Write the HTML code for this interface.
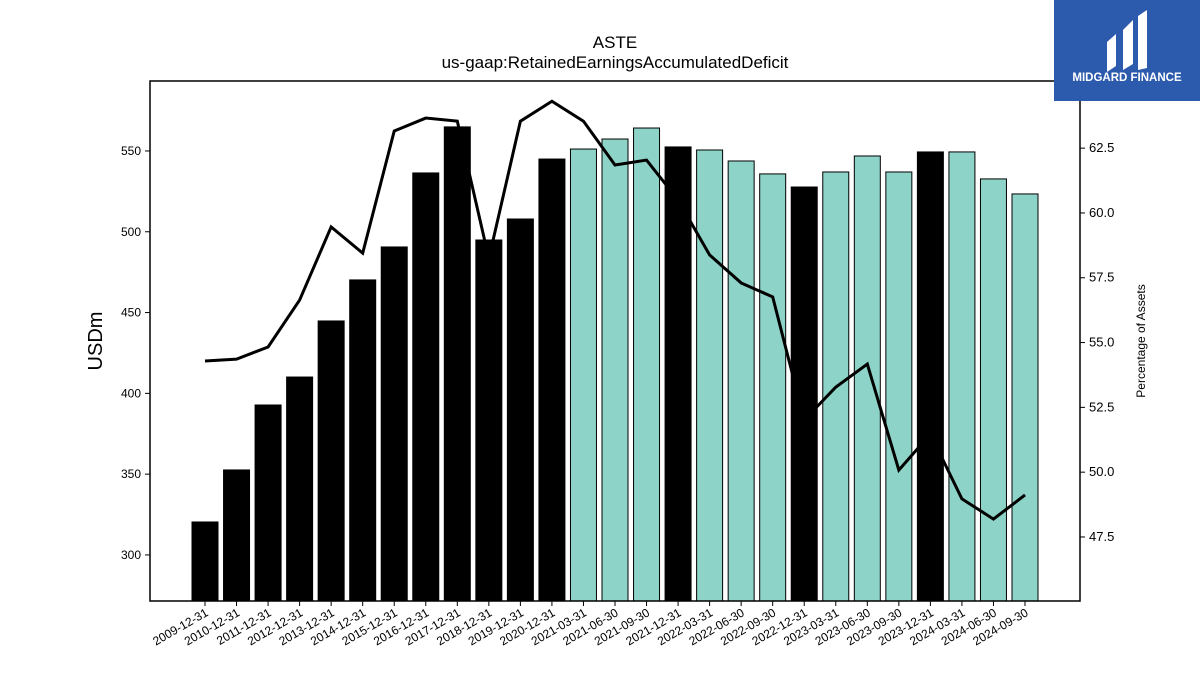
<!DOCTYPE html>
<html><head><meta charset="utf-8"><style>
body{margin:0;background:#fff;}
svg{display:block;font-family:"Liberation Sans","DejaVu Sans",sans-serif;}
</style></head><body>
<svg id="chart" width="1200" height="675" viewBox="0 0 1200 675">
<text x="615" y="48" text-anchor="middle" font-size="17">ASTE</text>
<text x="615" y="68" text-anchor="middle" font-size="17">us-gaap:RetainedEarningsAccumulatedDeficit</text>
<g id="bars"></g>
<g id="line"></g>
<rect x="150" y="81" width="930" height="520" fill="none" stroke="#000" stroke-width="1.5"/>
<g id="axes"></g>
<text x="102" y="341" text-anchor="middle" font-size="20" transform="rotate(-90 102 341)">USDm</text>
<text x="1145" y="341" text-anchor="middle" font-size="12" transform="rotate(-90 1145 341)">Percentage of Assets</text>
<g>
<rect x="1054" y="0" width="146" height="101" fill="#2c5aad"/>
<path d="M1107 42 L1116 34 L1116 66 L1107 72 Z M1123 30 L1133 20 L1133 64 L1123 70 Z M1138 16 L1147 10 L1147 68 L1138 70 Z" fill="#fff"/>
<text x="1127" y="81" text-anchor="middle" font-size="11.5" font-weight="bold" fill="#fff">MIDGARD FINANCE</text>
</g>
</svg>
<script>
const categories=["2009-12-31","2010-12-31","2011-12-31","2012-12-31","2013-12-31","2014-12-31","2015-12-31","2016-12-31","2017-12-31","2018-12-31","2019-12-31","2020-12-31","2021-03-31","2021-06-30","2021-09-30","2021-12-31","2022-03-31","2022-06-30","2022-09-30","2022-12-31","2023-03-31","2023-06-30","2023-09-30","2023-12-31","2024-03-31","2024-06-30","2024-09-30"];
const values=[320.4,352.6,392.8,410.1,444.8,470.2,490.6,536.4,564.9,494.9,507.9,545,551.2,557.4,564.2,552.5,550.6,543.8,535.8,527.7,537,546.9,537,549.4,549.4,532.7,523.4];
const pct=[54.29,54.36,54.83,56.64,59.46,58.45,63.16,63.66,63.54,58.24,63.54,64.31,63.54,61.85,62.04,60.5,58.38,57.3,56.76,52.01,53.28,54.17,50.08,51.47,48.97,48.19,49.12];
const leftTicks=[300,350,400,450,500,550];
const rightTicks=[47.5,50.0,52.5,55.0,57.5,60.0,62.5];
const NS="http://www.w3.org/2000/svg";
const L=150,R=1080,T=81,B=601;
const yMin=271.5,yMax=593.3,pMin=45.03,pMax=65.09;
const x0=205,step=(1025-205)/26;
function xs(i){return x0+i*step;}
function y(v){return B-(v-yMin)/(yMax-yMin)*(B-T);}
function y2(p){return B-(p-pMin)/(pMax-pMin)*(B-T);}
function mk(tag,attrs,parent){const e=document.createElementNS(NS,tag);for(const k in attrs)e.setAttribute(k,attrs[k]);parent.appendChild(e);return e;}
const bars=document.getElementById('bars');
categories.forEach((c,i)=>{
  const annual=c.endsWith('12-31');
  const r=mk('rect',{x:xs(i)-13,y:y(values[i]),width:26,height:B-y(values[i]),fill:annual?'#000':'#8dd3c7',stroke:'#000','stroke-width':1},bars);
  
  
});
const line=document.getElementById('line');
const pl=mk('polyline',{points:pct.map((p,i)=>xs(i)+','+y2(p)).join(' '),fill:'none',stroke:'#000','stroke-width':3,'stroke-linejoin':'miter'},line);


const axes=document.getElementById('axes');
leftTicks.forEach(t=>{
  mk('line',{x1:L-5,x2:L,y1:y(t),y2:y(t),stroke:'#000'},axes);
  const tx=mk('text',{x:L-9,y:y(t)+4,'text-anchor':'end','font-size':12},axes);
  tx.textContent=t;
  
  
});
rightTicks.forEach(t=>{
  mk('line',{x1:R,x2:R+5,y1:y2(t),y2:y2(t),stroke:'#000'},axes);
  const tx=mk('text',{x:R+9,y:y2(t)+4,'font-size':13},axes);
  tx.textContent=t.toFixed(1);
  
  
});
categories.forEach((c,i)=>{
  mk('line',{x1:xs(i),x2:xs(i),y1:B,y2:B+5,stroke:'#000'},axes);
  const tx=mk('text',{x:xs(i)+4,y:B+14,'text-anchor':'end','font-size':12,transform:'rotate(-30 '+(xs(i)+4)+' '+(B+14)+')'},axes);
  tx.textContent=c;
  
  
});
</script>
</body></html>
